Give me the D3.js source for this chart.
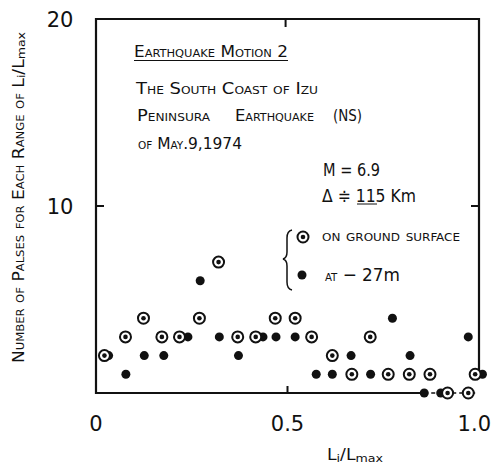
<!DOCTYPE html>
<html>
<head>
<meta charset="utf-8">
<script src="https://cdn.jsdelivr.net/npm/d3@7"></script>
<style>
  body { margin: 0; background: #fff; }
  svg { display: block; }
</style>
</head>
<body>
<div id="chart"></div>
<script>
// values
const groundX = [0.022, 0.077, 0.124, 0.172, 0.218, 0.27, 0.32, 0.37, 0.417, 0.468, 0.52, 0.563, 0.617, 0.668, 0.716, 0.763, 0.818, 0.872, 0.918, 0.972, 0.99];
const groundY = [2, 3, 4, 3, 3, 4, 7, 3, 3, 4, 4, 3, 2, 1, 3, 1, 1, 1, 0, 0, 1];
const depthX = [0.033, 0.078, 0.126, 0.177, 0.24, 0.272, 0.322, 0.372, 0.436, 0.47, 0.52, 0.575, 0.617, 0.666, 0.717, 0.774, 0.82, 0.857, 0.9, 0.972, 1.009];
const depthY = [2, 1, 2, 2, 3, 6, 3, 2, 3, 3, 3, 1, 1, 2, 1, 4, 2, 0, 0, 3, 1];
const xTicks = [0, 0.5, 1.0];
const xTickLabels = ["0", "0.5", "1.0"];
const yTicks = [10, 20];
const yTickLabels = ["10", "20"];

const width = 493, height = 468;
const margin = {top: 19, right: 14, bottom: 75, left: 96};
const ink = "#111";
const font = "'DejaVu Sans Condensed', 'DejaVu Sans', sans-serif";
const scRatio = 0.68;

const svg = d3.select("#chart").append("svg")
    .attr("width", width)
    .attr("height", height)
    .style("font-family", font);

const xScale = d3.scaleLinear().domain([0, 1]).range([margin.left, width - margin.right]);
const yScale = d3.scaleLinear().domain([0, 20]).range([height - margin.bottom, margin.top]);

// small caps by hand: lower case letters become smaller capitals
function smallCaps(textSel, str, size) {
  const runs = str.match(/[a-z]+|[^a-z]+/g);
  runs.forEach(r => {
    const lower = /[a-z]/.test(r[0]);
    textSel.append("tspan")
        .attr("font-size", lower ? size * scRatio : size)
        .text(r.toUpperCase());
  });
  return textSel;
}

function label(x, y, str, size, len) {
  const t = svg.append("text").attr("x", x).attr("y", y).attr("fill", ink);
  smallCaps(t, str, size);
  if (len) t.attr("textLength", len).attr("lengthAdjust", "spacingAndGlyphs");
  return t;
}

// frame
const x0 = xScale(0), x1 = xScale(1), y0 = yScale(0), y1 = yScale(20);
svg.append("path")
    .attr("d", `M${x1},${yScale(1.2)}V${y1}H${x0}V${y0}H${xScale(0.857)}`)
    .attr("fill", "none").attr("stroke", ink).attr("stroke-width", 2.2);
svg.append("line")
    .attr("x1", xScale(0.857)).attr("x2", xScale(0.99))
    .attr("y1", y0).attr("y2", y0)
    .attr("stroke", ink).attr("stroke-width", 1.5)
    .attr("stroke-dasharray", "4,3");

// inner ticks
svg.append("line").attr("x1", x0).attr("x2", x0 + 8).attr("y1", yScale(10)).attr("y2", yScale(10)).attr("stroke", ink).attr("stroke-width", 2);
svg.append("line").attr("x1", x1 - 8).attr("x2", x1).attr("y1", yScale(10)).attr("y2", yScale(10)).attr("stroke", ink).attr("stroke-width", 2);
svg.append("line").attr("x1", xScale(0.495)).attr("x2", xScale(0.495)).attr("y1", y1).attr("y2", y1 + 8).attr("stroke", ink).attr("stroke-width", 2);
svg.append("line").attr("x1", xScale(0.5)).attr("x2", xScale(0.5)).attr("y1", y0 - 7).attr("y2", y0).attr("stroke", ink).attr("stroke-width", 2);

// tick labels
svg.selectAll(".xt").data(xTicks).join("text")
    .attr("x", d => d === 1 ? width - 2 : xScale(d))
    .attr("y", y0 + 38)
    .attr("text-anchor", d => d === 1 ? "end" : "middle")
    .attr("font-size", 21)
    .attr("font-family", "'DejaVu Sans', sans-serif")
    .attr("fill", ink)
    .text((d, i) => xTickLabels[i]);

svg.selectAll(".yt").data(yTicks).join("text")
    .attr("x", 60)
    .attr("y", d => yScale(d) + 8)
    .attr("text-anchor", "middle")
    .attr("font-size", 21)
    .attr("font-family", "'DejaVu Sans', sans-serif")
    .attr("fill", ink)
    .text((d, i) => yTickLabels[i]);

// axis titles
const xt = svg.append("text")
    .attr("x", 327).attr("y", 460)
    .attr("font-size", 15).attr("fill", ink);
xt.append("tspan").text("L");
xt.append("tspan").attr("font-size", 11).attr("dy", 2).text("i");
xt.append("tspan").attr("dy", -2).text("/L");
xt.append("tspan").attr("font-size", 11).attr("dy", 2).text("max");
xt.attr("textLength", 56).attr("lengthAdjust", "spacingAndGlyphs");

const yt = svg.append("text")
    .attr("transform", "translate(24,363) rotate(-90)")
    .attr("fill", ink);
smallCaps(yt, "Number of Palses for Each Range of L", 15);
yt.append("tspan").attr("font-size", 11).attr("dy", 1).text("i");
yt.append("tspan").attr("font-size", 15).attr("dy", -1).text("/L");
yt.append("tspan").attr("font-size", 11).attr("dy", 1).text("max");
yt.attr("textLength", 331).attr("lengthAdjust", "spacingAndGlyphs");

// annotation block
label(134, 57, "Earthquake Motion 2", 15, 154);
svg.append("line").attr("x1", 134).attr("x2", 288).attr("y1", 60.5).attr("y2", 60.5)
    .attr("stroke", ink).attr("stroke-width", 1.2);
label(136, 94, "The South Coast of Izu", 16, 182);
label(137, 121, "Peninsura", 16, 73);
label(235, 121, "Earthquake", 16, 79);
label(333, 121, "(NS)", 16, 29);
label(138, 149, "of May.9,1974", 16, 104);

svg.append("text").attr("x", 323).attr("y", 176).attr("font-size", 18).attr("fill", ink)
    .attr("textLength", 57).attr("lengthAdjust", "spacingAndGlyphs")
    .text("M = 6.9");
const delta = svg.append("text").attr("x", 322).attr("y", 202).attr("font-size", 18).attr("fill", ink);
delta.append("tspan").text("\u0394 \u2251 ");
delta.append("tspan").text("115");
delta.append("tspan").text(" Km");
delta.attr("textLength", 94).attr("lengthAdjust", "spacingAndGlyphs");
svg.append("line").attr("x1", 357).attr("x2", 377).attr("y1", 204).attr("y2", 204)
    .attr("stroke", ink).attr("stroke-width", 1);

// legend
svg.append("path")
    .attr("d", "M292,230 Q287,231 287,238 V252 Q287,258 283,259 Q287,260 287,266 V282 Q287,289 292,290")
    .attr("fill", "none").attr("stroke", ink).attr("stroke-width", 1.5);

function openMark(sel) {
  sel.append("circle").attr("r", 5.5).attr("fill", "#fff").attr("stroke", ink).attr("stroke-width", 2);
  sel.append("circle").attr("r", 2.3).attr("fill", ink);
}

const legG = svg.append("g").attr("transform", "translate(303,237)");
openMark(legG);
svg.append("circle").attr("cx", 302).attr("cy", 275).attr("r", 4.5).attr("fill", ink);
label(322, 241, "on ground surface", 16, 138);
const at = svg.append("text").attr("x", 325).attr("y", 281).attr("fill", ink);
smallCaps(at, "at", 16);
at.append("tspan").attr("font-size", 18).text(" \u2212 27m");
at.attr("textLength", 75).attr("lengthAdjust", "spacingAndGlyphs");

// data marks
svg.selectAll(".depth").data(depthX).join("circle")
    .attr("class", "depth")
    .attr("cx", d => xScale(d))
    .attr("cy", (d, i) => yScale(depthY[i]))
    .attr("r", 4.5)
    .attr("fill", ink);

svg.selectAll(".ground").data(groundX).join("g")
    .attr("class", "ground")
    .attr("transform", (d, i) => `translate(${xScale(d)},${yScale(groundY[i])})`)
    .each(function() { openMark(d3.select(this)); });
</script>
</body>
</html>
